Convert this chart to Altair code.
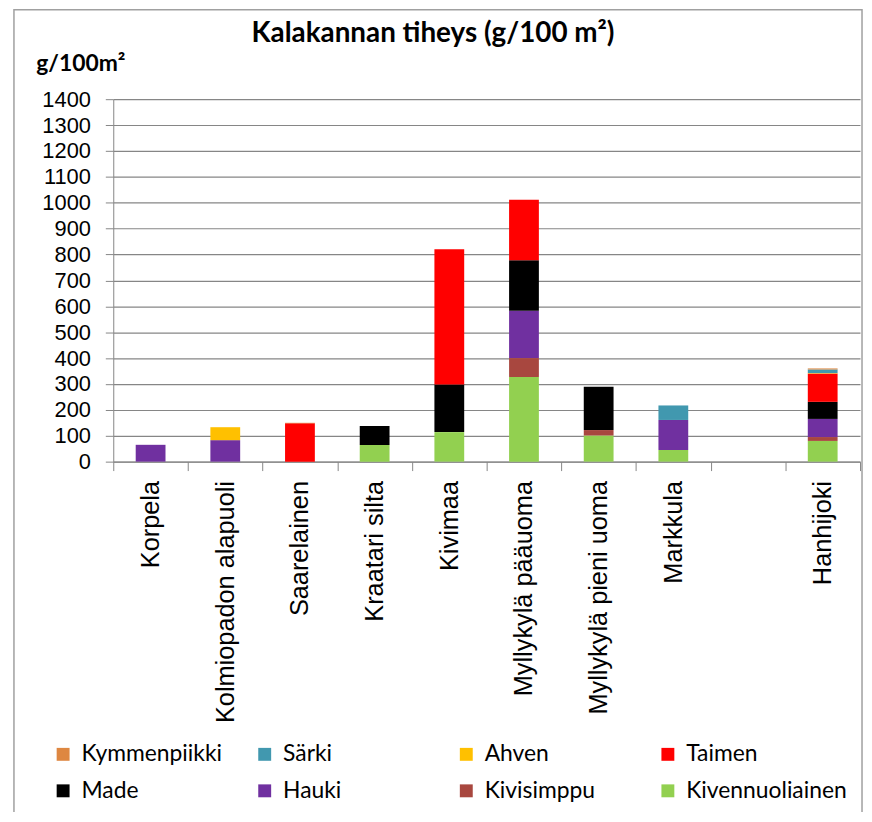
import altair as alt
import pandas as pd

title_text = "Kalakannan tiheys (g/100 m²)"
y_unit = "g/100m²"

sites = ["Korpela", "Kolmiopadon alapuoli", "Saarelainen", "Kraatari silta", "Kivimaa",
         "Myllykylä pääuoma", "Myllykylä pieni uoma", "Markkula", " ", "Hanhijoki"]

# legend order (filled column by column: 2 rows x 4 columns)
species = ["Kymmenpiikki", "Made", "Särki", "Hauki", "Ahven", "Kivisimppu", "Taimen", "Kivennuoliainen"]
colors = ["#DE8741", "#000000", "#4198AF", "#7030A0", "#FFC000", "#A8473F", "#FF0000", "#92D050"]

kivennuoliainen = [0, 0, 0, 64, 114, 327, 101, 45, 0, 80]
kivisimppu      = [0, 0, 0, 0, 0, 73, 21, 0, 0, 15]
hauki           = [65, 83, 0, 0, 0, 183, 0, 116, 0, 70]
made            = [0, 0, 0, 74, 184, 195, 167, 0, 0, 66]
taimen          = [0, 0, 148, 0, 522, 234, 0, 0, 0, 109]
ahven           = [0, 50, 0, 0, 0, 0, 0, 0, 0, 2]
sarki           = [0, 0, 0, 0, 0, 0, 0, 56, 0, 14]
kymmenpiikki    = [0, 0, 2, 0, 0, 0, 0, 0, 0, 4]

# stacking order, bottom first
series = {
    "Kivennuoliainen": kivennuoliainen,
    "Kivisimppu": kivisimppu,
    "Hauki": hauki,
    "Made": made,
    "Taimen": taimen,
    "Ahven": ahven,
    "Särki": sarki,
    "Kymmenpiikki": kymmenpiikki,
}

rows = []
for rank, (sp, vals) in enumerate(series.items()):
    for site, v in zip(sites, vals):
        if v > 0:
            rows.append({"site": site, "species": sp, "value": v, "rank": rank})
df = pd.DataFrame(rows)

GRAY = "#868686"

bars = alt.Chart(df).mark_bar(size=30).encode(
    x=alt.X("site:N", sort=sites,
            scale=alt.Scale(domain=sites, paddingInner=0, paddingOuter=0),
            axis=alt.Axis(title=None, labelAngle=270, labelFont="Liberation Sans",
                          labelFontSize=25.5, labelColor="#000000", labelPadding=10,
                          tickSize=9, tickBand="extent", tickColor=GRAY,
                          domainColor=GRAY, grid=False, labelLimit=400)),
    y=alt.Y("value:Q", stack="zero",
            scale=alt.Scale(domain=[0, 1400], nice=False),
            axis=alt.Axis(values=list(range(0, 1401, 100)), format="d", title=y_unit,
                          titleAngle=0, titleAlign="left", titleBaseline="alphabetic",
                          titleX=-78, titleY=-29, titleFont="Lato", titleFontSize=23,
                          titleFontWeight="bold", titleColor="#000000",
                          labelFont="Liberation Sans", labelFontSize=22,
                          labelColor="#000000", labelPadding=15, tickSize=8,
                          tickColor=GRAY, domainColor=GRAY, gridColor=GRAY,
                          gridWidth=1.2)),
    color=alt.Color("species:N",
                    scale=alt.Scale(domain=species, range=colors),
                    legend=alt.Legend(title=None, orient="none", legendX=-62, legendY=648,
                                      columns=4, gridAlign="all", columnPadding=11,
                                      rowPadding=13, symbolType="square", symbolSize=169,
                                      symbolStrokeWidth=0, labelFont="Lato",
                                      labelFontSize=23, labelColor="#000000",
                                      labelOffset=7, labelLimit=300, padding=0)),
    order=alt.Order("rank:Q", sort="ascending"),
)

title = alt.Chart(pd.DataFrame({"t": [title_text]})).mark_text(
    font="Lato", fontSize=28, fontWeight="bold", color="#000000",
    align="center", baseline="alphabetic"
).encode(text="t:N", x=alt.value(322), y=alt.value(-58))

frame = alt.Chart(pd.DataFrame({"a": [0]})).mark_rect(
    fill=None, stroke="#a0a0a0", strokeWidth=1.5
).encode(x=alt.value(-100), x2=alt.value(754), y=alt.value(-90), y2=alt.value(760))

chart = alt.layer(bars, title, frame).properties(
    width=752, height=365,
    padding={"left": 106, "top": 89, "right": 4, "bottom": 350},
    autosize=alt.AutoSizeParams(type="none"),
).configure_view(stroke=None)

chart.save("out.html", embed_options={"renderer": "svg", "actions": False})
